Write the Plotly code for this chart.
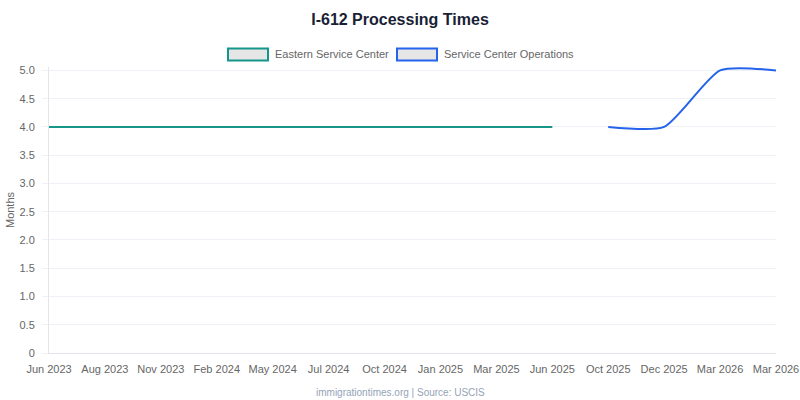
import plotly.graph_objects as go

# ---- data ----
labels = ["Jun 2023", "Aug 2023", "Nov 2023", "Feb 2024", "May 2024", "Jul 2024",
          "Oct 2024", "Jan 2025", "Mar 2025", "Jun 2025", "Oct 2025", "Dec 2025",
          "Mar 2026", "Mar 2026"]
eastern = [4, 4, 4, 4, 4, 4, 4, 4, 4, 4, None, None, None, None]
operations = [None, None, None, None, None, None, None, None, None, None, 4, 4, 5, 5]
series_names = ["Eastern Service Center", "Service Center Operations"]
y_ticks = [0, 0.5, 1, 1.5, 2, 2.5, 3, 3.5, 4, 4.5, 5]
y_tick_text = ["0", "0.5", "1.0", "1.5", "2.0", "2.5", "3.0", "3.5", "4.0", "4.5", "5.0"]

TEAL = "#14968a"
BLUE = "#2563eb"
FONT = "Liberation Sans, Arial, Helvetica, sans-serif"

x_idx = list(range(len(labels)))

fig = go.Figure()
fig.add_trace(go.Scatter(x=x_idx, y=eastern, mode="lines", name=series_names[0],
                         line=dict(color=TEAL, width=2, shape="spline", smoothing=0.6),
                         connectgaps=False, showlegend=False))
fig.add_trace(go.Scatter(x=x_idx, y=operations, mode="lines", name=series_names[1],
                         line=dict(color=BLUE, width=2, shape="spline", smoothing=0.6),
                         connectgaps=False, showlegend=False))

W, H = 800, 400
L, R, T5, B = 49, 776, 70, 353        # pixel positions of left/right edges, y=5.0 and y=0
Y_TOP = 5.06                          # headroom so the spline is not clipped
T = B - (B - T5) * Y_TOP / 5


def px(x):
    return (x - L) / (R - L)


def py(y):
    return (B - y) / (B - T)


shapes = []
annotations = []
legend_items = [(228, series_names[0], TEAL), (397, series_names[1], BLUE)]
for x0, name, col in legend_items:
    shapes.append(dict(type="rect", xref="paper", yref="paper",
                       x0=px(x0), x1=px(x0 + 40), y0=py(60), y1=py(48),
                       line=dict(color=col, width=2), fillcolor="#e6e6e6"))
    annotations.append(dict(text=name, xref="paper", yref="paper", x=px(x0 + 45), y=py(54),
                            xanchor="left", yanchor="middle", showarrow=False,
                            font=dict(family=FONT, size=11, color="#666666")))

annotations.append(dict(text="immigrationtimes.org | Source: USCIS", xref="paper", yref="paper",
                        x=px(400), y=py(393), xanchor="center", yanchor="middle", showarrow=False,
                        font=dict(family=FONT, size=10, color="#94a3b8")))

fig.update_layout(
    width=W, height=H,
    margin=dict(l=L, r=W - R, t=T, b=H - B, autoexpand=False),
    paper_bgcolor="white", plot_bgcolor="white",
    title=dict(text="<b>I-612 Processing Times</b>", x=0.5, xanchor="center",
               xref="container", yref="container", y=1 - 19 / H, yanchor="middle",
               font=dict(family=FONT, size=16, color="#1a1f36")),
    shapes=shapes, annotations=annotations,
    showlegend=False,
    font=dict(family=FONT, size=11, color="#666666"),
)
fig.update_xaxes(range=[0, len(labels) - 1], tickmode="array", tickvals=x_idx, ticktext=labels,
                 showgrid=False, zeroline=False, showline=True, linecolor="#e2e5ea", linewidth=1,
                 ticks="", ticklabelstandoff=6, automargin=False,
                 tickfont=dict(family=FONT, size=11, color="#666666"),
                 fixedrange=True)
fig.update_yaxes(range=[0, Y_TOP], tickmode="array", tickvals=y_ticks, ticktext=y_tick_text,
                 showgrid=True, gridcolor="#eef1f6", gridwidth=1, zeroline=False,
                 showline=True, linecolor="#e2e5ea", linewidth=1,
                 ticks="outside", ticklen=6, tickcolor="#eef1f6", ticklabelstandoff=5,
                 automargin=False,
                 tickfont=dict(family=FONT, size=11, color="#666666"),
                 title=dict(text="Months", standoff=2, font=dict(family=FONT, size=11, color="#666666")),
                 fixedrange=True)

fig.write_html("out.html", config={"displayModeBar": False},
               post_script="document.body.style.margin='0';document.body.style.padding='0';")
